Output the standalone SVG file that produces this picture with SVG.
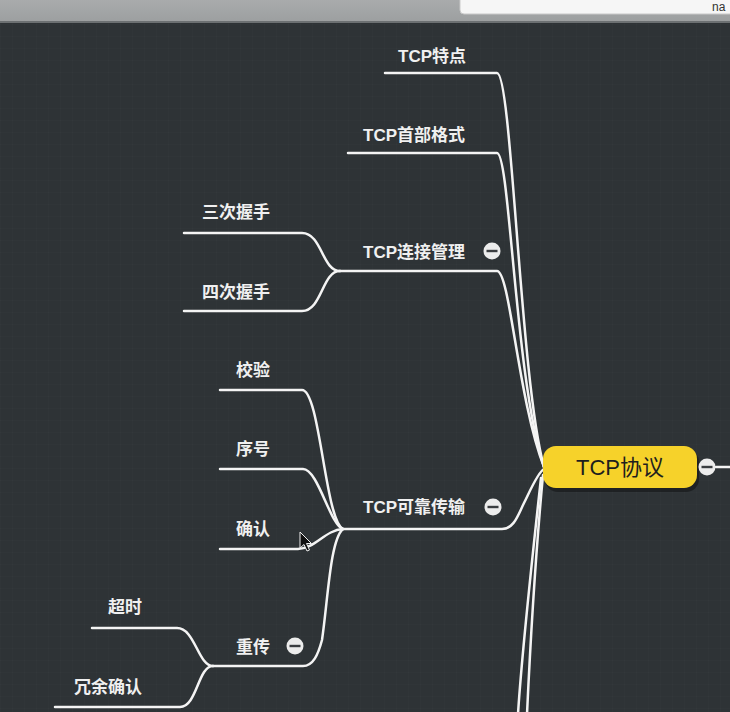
<svg xmlns="http://www.w3.org/2000/svg" width="730" height="712" viewBox="0 0 730 712">
<defs>
<style>
.bg{fill:#2e3336}
.conn path{fill:none;stroke:#f4f4f4;stroke-width:2.5;stroke-linecap:round;stroke-linejoin:round}
.lbl{font-family:"Liberation Sans","Noto Sans CJK SC",sans-serif;font-size:17px;font-weight:bold;fill:#f0f0f0;text-anchor:end}
.root{font-family:"Liberation Sans","Noto Sans CJK SC",sans-serif;font-size:22px;fill:#1e1e1e;text-anchor:middle}
.tog circle{fill:#ececec}
.tog rect{fill:#3a3d40}
</style>
<pattern id="grid" width="12" height="12" patternUnits="userSpaceOnUse">
<path d="M12 0H0V12" fill="none" stroke="#ffffff" stroke-opacity="0.025" stroke-width="1"/>
</pattern>
<linearGradient id="bar" x1="0" y1="0" x2="0" y2="1">
<stop offset="0" stop-color="#a9abac"/>
<stop offset="1" stop-color="#9c9fa0"/>
</linearGradient>
<g id="minus" class="tog"><circle r="8.5"/><rect x="-5.5" y="-1.2" width="11" height="2.4"/></g>
</defs>
<rect class="bg" width="730" height="712"/>
<rect width="730" height="712" fill="url(#grid)"/>
<g id="topbar">
<rect x="0" y="0" width="730" height="22" fill="url(#bar)"/>
<rect x="0" y="21" width="730" height="2" fill="#6c7072"/>
<rect x="460" y="-6" width="280" height="20" rx="4" fill="#f6f6f6" stroke="#c9c9c9"/>
<text x="712" y="11" font-family="Liberation Sans,sans-serif" font-size="12" fill="#333">na</text>
</g>
<g id="connectors" class="conn">
<path d="M385,73 H497 C512,73 520,380 544,467"/>
<path d="M348,153 H497 C510,153 515,380 544,467"/>
<path d="M340,271 H497 C510,271 518,400 544,467"/>
<path d="M343,529 H502 C514,529 518,515 524,503 S538,472 544,469"/>
<path d="M543,475 C536,550 530,650 527,714"/>
<path d="M541,478 C532,560 522,650 518,714"/>
<path d="M716,467 H732"/>
<path d="M184,233 H302 C322,233 322,271 340,271"/>
<path d="M184,311 H302 C322,311 322,271 340,271"/>
<path d="M220,390 H302 C320,390 325,520 343,529"/>
<path d="M220,469 H303 C318,469 330,525 343,529"/>
<path d="M220,549 H298 C315,549 325,530 343,529"/>
<path d="M213,666 H303 C313,666 318,655 322,640 C328,600 330,540 343,529"/>
<path d="M92,628 H177 C195,628 198,666 213,666"/>
<path d="M55,707 H180 C197,707 198,666 213,666"/>
</g>
<g id="n-root">
<rect x="545" y="449" width="154" height="43" rx="13" fill="#000" opacity="0.35"/>
<rect x="543" y="446" width="154" height="42" rx="13" fill="#f6d22a"/>
<text class="root" x="620" y="475">TCP协议</text>
<use href="#minus" x="707" y="467"/>
</g>
<g id="n-tedian"><text class="lbl" x="466" y="62">TCP特点</text></g>
<g id="n-shoubu"><text class="lbl" x="465" y="141">TCP首部格式</text></g>
<g id="n-lianjie"><text class="lbl" x="465" y="258">TCP连接管理</text><use href="#minus" x="492" y="251"/></g>
<g id="n-sanci"><text class="lbl" x="270" y="218">三次握手</text></g>
<g id="n-sici"><text class="lbl" x="270" y="298">四次握手</text></g>
<g id="n-kekao"><text class="lbl" x="465" y="513">TCP可靠传输</text><use href="#minus" x="493" y="507"/></g>
<g id="n-jiaoyan"><text class="lbl" x="270" y="376">校验</text></g>
<g id="n-xuhao"><text class="lbl" x="270" y="455">序号</text></g>
<g id="n-queren"><text class="lbl" x="270" y="535">确认</text></g>
<g id="n-chongchuan"><text class="lbl" x="270" y="653">重传</text><use href="#minus" x="295" y="646"/></g>
<g id="n-chaoshi"><text class="lbl" x="142" y="613">超时</text></g>
<g id="n-rongyu"><text class="lbl" x="142" y="693">冗余确认</text></g>
<g id="cursor">
<path d="M300,532 L300,548 L304,544.5 L307,551 L309.5,550 L306.5,543.5 L311.5,543.5 Z" fill="#111" stroke="#eee" stroke-width="1"/>
</g>
</svg>
